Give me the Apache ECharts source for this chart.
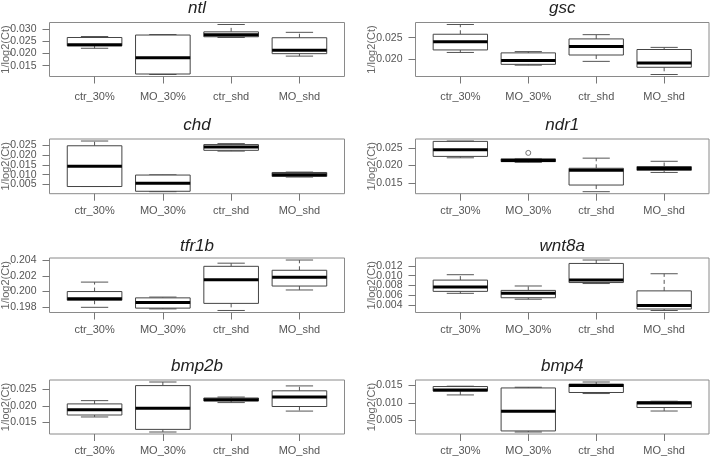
<!DOCTYPE html>
<html>
<head>
<meta charset="utf-8">
<script src="https://cdn.jsdelivr.net/npm/echarts@6/dist/echarts.min.js"></script>
<style>
html,body{margin:0;padding:0;background:#fff;}
#chart{width:712px;height:459px;}
</style>
</head>
<body>
<div id="chart"></div>
<script>
// ---- data (five-number summaries: min, Q1, median, Q3, max) ----
const categories = ['ctr_30%', 'MO_30%', 'ctr_shd', 'MO_shd'];
const genes = ['ntl', 'gsc', 'chd', 'ndr1', 'tfr1b', 'wnt8a', 'bmp2b', 'bmp4'];

const ntl   = [[0.0221,0.0231,0.0235,0.0265,0.0269],[0.0114,0.0116,0.0182,0.0275,0.0277],[0.0265,0.0268,0.0276,0.0288,0.0318],[0.0189,0.0199,0.0213,0.0264,0.0286]];
const gsc   = [[0.0215,0.0221,0.0240,0.0258,0.0281],[0.0185,0.0187,0.0196,0.0214,0.0217],[0.0194,0.0209,0.0229,0.0247,0.0257],[0.0163,0.0180,0.0190,0.0222,0.0227]];
const chd   = [[0.0040,0.0040,0.0142,0.0246,0.0270],[0.0014,0.0016,0.0057,0.0098,0.0099],[0.0219,0.0223,0.0240,0.0252,0.0257],[0.0088,0.0091,0.0100,0.0111,0.0113]];
const ndr1  = [[0.0222,0.0226,0.0245,0.0269,0.0270],[0.0209,0.0211,0.0214,0.0219,0.0220],[0.0125,0.0144,0.0186,0.0192,0.0221],[0.0180,0.0186,0.0191,0.0197,0.0212]];
const tfr1b = [[0.1980,0.1989,0.1991,0.2000,0.2012],[0.1978,0.1979,0.1986,0.1992,0.1993],[0.1976,0.1985,0.2015,0.2032,0.2036],[0.2002,0.2007,0.2018,0.2027,0.2040]];
const wnt8a = [[0.0064,0.0068,0.0077,0.0091,0.0102],[0.0052,0.0055,0.0064,0.0070,0.0079],[0.0084,0.0086,0.0091,0.0125,0.0132],[0.0029,0.0032,0.0039,0.0069,0.0104]];
const bmp2b = [[0.0166,0.0172,0.0188,0.0206,0.0216],[0.0120,0.0128,0.0193,0.0262,0.0273],[0.0210,0.0215,0.0219,0.0224,0.0227],[0.0184,0.0198,0.0227,0.0246,0.0261]];
const bmp4  = [[0.0123,0.0134,0.0137,0.0147,0.0148],[0.0017,0.0020,0.0076,0.0143,0.0145],[0.0127,0.0130,0.0150,0.0154,0.0160],[0.0077,0.0087,0.0100,0.0104,0.0105]];

// outliers: [category index (1-based), value]
const ndr1Outliers = [[2, 0.0236]];

// y tick labels
const ntlTicks   = [0.015, 0.020, 0.025, 0.030];
const gscTicks   = [0.020, 0.025];
const chdTicks   = [0.005, 0.010, 0.015, 0.020, 0.025];
const ndr1Ticks  = [0.015, 0.020, 0.025];
const tfr1bTicks = [0.198, 0.200, 0.202, 0.204];
const wnt8aTicks = [0.004, 0.006, 0.008, 0.010, 0.012];
const bmp2bTicks = [0.015, 0.020, 0.025];
const bmp4Ticks  = [0.005, 0.010, 0.015];

const yAxisName = '1/log2(Ct)';

// ---- build ----
const panels = [
  {name: genes[0], data: ntl,   ticks: ntlTicks,   out: []},
  {name: genes[1], data: gsc,   ticks: gscTicks,   out: []},
  {name: genes[2], data: chd,   ticks: chdTicks,   out: []},
  {name: genes[3], data: ndr1,  ticks: ndr1Ticks,  out: ndr1Outliers},
  {name: genes[4], data: tfr1b, ticks: tfr1bTicks, out: []},
  {name: genes[5], data: wnt8a, ticks: wnt8aTicks, out: []},
  {name: genes[6], data: bmp2b, ticks: bmp2bTicks, out: []},
  {name: genes[7], data: bmp4,  ticks: bmp4Ticks,  out: []}
];

const FONT = '"Liberation Sans", Arial, Helvetica, sans-serif';
const rowTop = [22.5, 139, 258, 380];
const rowH = [54, 54.7, 54.5, 54];
const titleY = [8.5, 125, 246.7, 366.7];
const xLabelMargin = [14.5, 12, 11.5, 11.5];
const colLeft = [49.5, 415.5];
const colW = [295, 293.5];

const grids = [], xAxes = [], yAxes = [], series = [], graphics = [];

function yAxisDef(gridIndex, min, max, vals, withName) {
  const ax = {type: 'value', gridIndex: gridIndex, min: min, max: max, position: 'left', offset: 0,
    axisLine: {show: false}, splitLine: {show: false},
    axisTick: {show: true, length: 7, customValues: vals, lineStyle: {color: '#777'}},
    axisLabel: {customValues: vals, margin: 13, fontSize: 10.5, color: '#555', fontFamily: FONT,
      interval: 0, hideOverlap: false, showMinLabel: true, showMaxLabel: true,
      formatter: v => v.toFixed(3)}
  };
  if (withName) {
    ax.name = yAxisName;
    ax.nameLocation = 'middle';
    ax.nameGap = 38;
    ax.nameMoveOverlap = false;
    ax.nameTextStyle = {fontSize: 11, color: '#666', fontFamily: FONT};
  }
  return ax;
}

panels.forEach((p, i) => {
  const r = Math.floor(i / 2), c = i % 2;
  grids.push({left: colLeft[c], top: rowTop[r], width: colW[c], height: rowH[r],
    outerBoundsMode: 'none', containLabel: false,
    show: true, borderColor: '#8a8a8a', borderWidth: 1, backgroundColor: 'transparent'});

  let lo = Infinity, hi = -Infinity;
  p.data.forEach(d => { lo = Math.min(lo, d[0]); hi = Math.max(hi, d[4]); });
  p.out.forEach(o => { lo = Math.min(lo, o[1]); hi = Math.max(hi, o[1]); });
  const ext = (hi - lo) * 0.04;

  xAxes.push({type: 'value', gridIndex: i, min: 0.34, max: 4.66,
    axisLine: {show: false}, splitLine: {show: false},
    axisTick: {show: true, length: 7, customValues: [1, 2, 3, 4], lineStyle: {color: '#777'}},
    axisLabel: {customValues: [1, 2, 3, 4], margin: xLabelMargin[r], fontSize: 11, color: '#555', fontFamily: FONT,
      interval: 0, hideOverlap: false, showMinLabel: true, showMaxLabel: true,
      formatter: v => categories[Math.round(v) - 1] || ''}
  });
  // tick labels split over two coincident axes so none is dropped for overlap
  const evenTicks = p.ticks.filter((t, k) => k % 2 === 0);
  const oddTicks = p.ticks.filter((t, k) => k % 2 === 1);
  const yMain = yAxes.length;
  yAxes.push(yAxisDef(i, lo - ext, hi + ext, evenTicks, true));
  if (oddTicks.length) yAxes.push(yAxisDef(i, lo - ext, hi + ext, oddTicks, false));

  series.push({
    type: 'custom', xAxisIndex: i, yAxisIndex: yMain,
    data: p.data.map((d, k) => [k + 1, d[0], d[1], d[2], d[3], d[4]]),
    encode: {x: 0, y: [1, 2, 3, 4, 5]},
    renderItem: (params, api) => {
      const x = api.value(0);
      const pLo = api.coord([x, api.value(1)]);
      const pQ1 = api.coord([x, api.value(2)]);
      const pMed = api.coord([x, api.value(3)]);
      const pQ3 = api.coord([x, api.value(4)]);
      const pHi = api.coord([x, api.value(5)]);
      const w = api.size([0.8, 0])[0];
      const cx = pMed[0];
      const wh = {stroke: '#555', lineWidth: 1, lineDash: [4, 3]};
      const st = {stroke: '#555', lineWidth: 1};
      return {type: 'group', children: [
        {type: 'line', shape: {x1: cx, y1: pQ3[1], x2: cx, y2: pHi[1]}, style: wh},
        {type: 'line', shape: {x1: cx, y1: pQ1[1], x2: cx, y2: pLo[1]}, style: wh},
        {type: 'line', shape: {x1: cx - w / 4, y1: pHi[1], x2: cx + w / 4, y2: pHi[1]}, style: st},
        {type: 'line', shape: {x1: cx - w / 4, y1: pLo[1], x2: cx + w / 4, y2: pLo[1]}, style: st},
        {type: 'rect', shape: {x: cx - w / 2, y: pQ3[1], width: w, height: pQ1[1] - pQ3[1]},
          style: {fill: '#fff', stroke: '#444', lineWidth: 1}},
        {type: 'line', shape: {x1: cx - w / 2, y1: pMed[1], x2: cx + w / 2, y2: pMed[1]},
          style: {stroke: '#000', lineWidth: 3}}
      ]};
    }
  });
  if (p.out.length) {
    series.push({type: 'scatter', xAxisIndex: i, yAxisIndex: yMain, data: p.out,
      symbol: 'circle', symbolSize: 5,
      itemStyle: {color: '#fff', borderColor: '#555', borderWidth: 1}});
  }
  graphics.push({type: 'text', x: colLeft[c] + colW[c] / 2, y: titleY[r],
    style: {text: p.name, textAlign: 'center', textVerticalAlign: 'middle',
      font: 'italic 17px ' + FONT, fill: '#222'}});
});

const chart = echarts.init(document.getElementById('chart'), null, {renderer: 'canvas'});
chart.setOption({
  animation: false,
  backgroundColor: '#fff',
  grid: grids, xAxis: xAxes, yAxis: yAxes, series: series,
  graphic: graphics
});
</script>
</body>
</html>
